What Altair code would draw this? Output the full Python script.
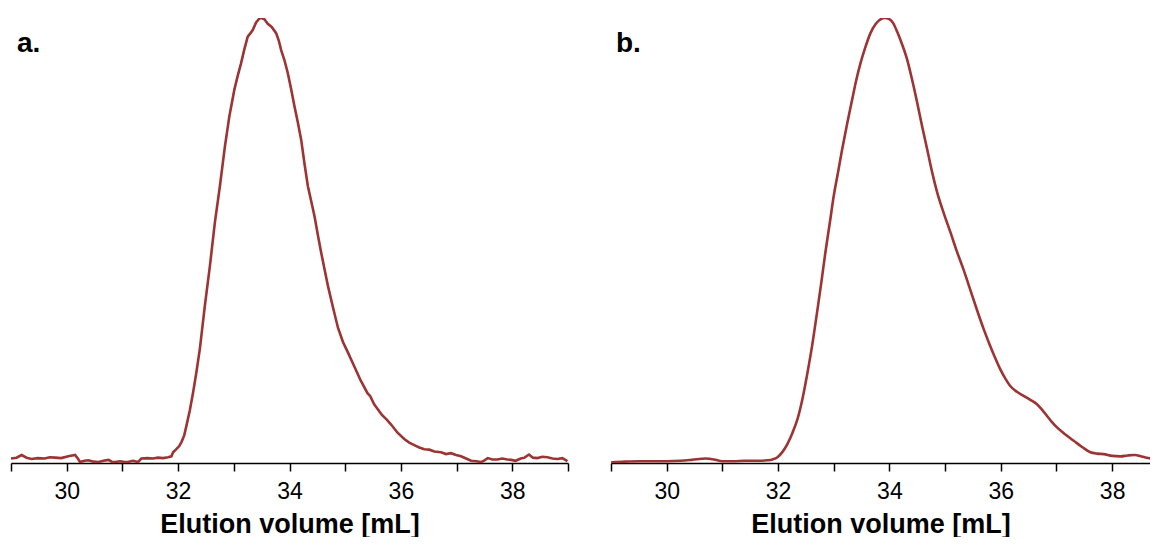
import altair as alt
import pandas as pd

panel_labels = ["a.", "b."]
axis_title = "Elution volume [mL]"
tick_values = list(range(29, 40))

# Panel a (noisy trace)
x_a = [29.00, 29.10, 29.19, 29.28, 29.37, 29.48, 29.60, 29.70, 29.79, 29.90,
       30.03, 30.15, 30.20, 30.24, 30.32, 30.39, 30.48, 30.57, 30.66, 30.75,
       30.81, 30.87, 30.96, 31.04, 31.10, 31.19, 31.28, 31.34, 31.45, 31.55,
       31.64, 31.73, 31.82, 31.88, 31.91, 31.96, 32.02, 32.06, 32.11, 32.15,
       32.21, 32.27, 32.33, 32.39, 32.48, 32.57, 32.66, 32.75, 32.84, 32.92,
       33.01, 33.07, 33.13, 33.19, 33.25, 33.30, 33.34, 33.40, 33.46, 33.50,
       33.55, 33.61, 33.68, 33.76, 33.81, 33.85, 33.91, 33.97, 34.03, 34.09,
       34.15, 34.21, 34.27, 34.33, 34.39, 34.45, 34.51, 34.57, 34.63, 34.69,
       34.78, 34.87, 34.96, 35.05, 35.16, 35.28, 35.40, 35.45, 35.52, 35.66,
       35.75, 35.82, 35.94, 36.06, 36.15, 36.24, 36.33, 36.42, 36.51, 36.60,
       36.72, 36.81, 36.90, 36.99, 37.08, 37.17, 37.26, 37.35, 37.44, 37.50,
       37.56, 37.64, 37.73, 37.82, 37.91, 37.98, 38.06, 38.15, 38.22, 38.30,
       38.37, 38.45, 38.54, 38.63, 38.72, 38.81, 38.90, 38.99]
y_a = [0.010, 0.012, 0.018, 0.012, 0.009, 0.011, 0.010, 0.013, 0.012, 0.011,
       0.015, 0.018, 0.010, 0.002, 0.005, 0.006, 0.003, 0.002, 0.005, 0.007,
       0.003, 0.002, 0.004, 0.002, 0.002, 0.005, 0.002, 0.010, 0.011, 0.010,
       0.012, 0.011, 0.013, 0.015, 0.024, 0.030, 0.038, 0.047, 0.062, 0.084,
       0.118, 0.159, 0.205, 0.256, 0.353, 0.442, 0.540, 0.622, 0.711, 0.779,
       0.839, 0.870, 0.898, 0.930, 0.958, 0.966, 0.973, 0.990, 0.999, 1.000,
       0.997, 0.987, 0.980, 0.966, 0.948, 0.928, 0.905, 0.876, 0.840, 0.801,
       0.765, 0.726, 0.672, 0.622, 0.588, 0.554, 0.512, 0.472, 0.435, 0.398,
       0.350, 0.304, 0.272, 0.248, 0.218, 0.185, 0.157, 0.150, 0.132, 0.108,
       0.097, 0.087, 0.068, 0.054, 0.046, 0.040, 0.035, 0.031, 0.030, 0.026,
       0.024, 0.020, 0.022, 0.018, 0.015, 0.010, 0.005, 0.004, 0.002, 0.006,
       0.011, 0.008, 0.008, 0.010, 0.008, 0.007, 0.005, 0.010, 0.012, 0.019,
       0.012, 0.011, 0.014, 0.013, 0.010, 0.009, 0.011, 0.004]

# Panel b (smooth trace)
x_b = [29.00, 29.25, 29.50, 29.75, 30.00, 30.25, 30.45, 30.70, 30.85, 31.00,
       31.20, 31.40, 31.57, 31.70, 31.81, 31.90, 31.99, 32.08, 32.17, 32.26,
       32.35, 32.44, 32.53, 32.62, 32.70, 32.78, 32.85, 32.93, 33.00, 33.08,
       33.15, 33.24, 33.33, 33.40, 33.48, 33.57, 33.66, 33.75, 33.84, 33.92,
       33.99, 34.07, 34.14, 34.23, 34.32, 34.41, 34.50, 34.59, 34.68, 34.77,
       34.86, 34.98, 35.10, 35.21, 35.33, 35.45, 35.57, 35.69, 35.81, 35.90,
       35.99, 36.08, 36.17, 36.29, 36.41, 36.53, 36.65, 36.74, 36.83, 36.92,
       37.01, 37.16, 37.31, 37.46, 37.61, 37.73, 37.85, 38.00, 38.15, 38.28,
       38.40, 38.55, 38.70, 38.85, 39.00]
y_b = [0.001, 0.003, 0.004, 0.004, 0.004, 0.005, 0.007, 0.010, 0.008, 0.004,
       0.004, 0.005, 0.005, 0.005, 0.006, 0.008, 0.013, 0.025, 0.043, 0.068,
       0.099, 0.145, 0.204, 0.270, 0.338, 0.408, 0.473, 0.540, 0.600, 0.655,
       0.704, 0.762, 0.816, 0.858, 0.898, 0.935, 0.966, 0.986, 0.997, 1.000,
       0.998, 0.988, 0.969, 0.940, 0.906, 0.860, 0.809, 0.755, 0.704, 0.652,
       0.607, 0.560, 0.517, 0.476, 0.435, 0.390, 0.345, 0.302, 0.263, 0.236,
       0.211, 0.190, 0.173, 0.160, 0.151, 0.142, 0.132, 0.120, 0.106, 0.092,
       0.080, 0.064, 0.050, 0.036, 0.024, 0.021, 0.020, 0.016, 0.015, 0.017,
       0.018, 0.014, 0.010, 0.008, 0.006]

LINE = "#9c3434"
FONT = "Liberation Sans"
UNIT = 55.7  # pixels per mL


def panel(xs, ys, label, interp, x_max, label_x):
    df = pd.DataFrame({"vol": xs, "sig": ys})
    x = alt.X(
        "vol:Q",
        scale=alt.Scale(domain=[29, x_max], nice=False, zero=False),
        axis=alt.Axis(
            values=tick_values,
            title=axis_title,
            format="d",
            labelExpr="datum.value % 2 == 0 ? datum.label : ''",
            labelOverlap=False,
            labelFlush=False,
        ),
    )
    y = alt.Y("sig:Q", scale=alt.Scale(domain=[0, 1], nice=False, zero=False), axis=None)
    line = alt.Chart(df).mark_line(
        color=LINE, strokeWidth=2.6, interpolate=interp, clip=True
    ).encode(x=x, y=y)
    text = alt.Chart(pd.DataFrame({"t": [label]})).mark_text(
        font=FONT, fontSize=28, fontWeight="bold", align="left",
        baseline="alphabetic", color="black"
    ).encode(x=alt.value(label_x), y=alt.value(34), text="t:N")
    return alt.layer(line, text).properties(
        width=round((x_max - 29) * UNIT), height=445
    )


chart = alt.hconcat(
    panel(x_a, y_a, panel_labels[0], "linear", 39, 6),
    panel(x_b, y_b, panel_labels[1], "monotone", 38.68, 5),
    spacing=41,
).properties(
    padding={"left": 2, "top": 10, "right": 0, "bottom": 0}
).configure_view(
    stroke=None
).configure_axis(
    grid=False,
    domainColor="black",
    domainWidth=1.5,
    tickColor="black",
    tickWidth=1.5,
    tickSize=8,
    labelFont=FONT,
    labelFontSize=23,
    labelColor="black",
    labelPadding=9,
    titleFont=FONT,
    titleFontSize=27,
    titleFontWeight="bold",
    titleColor="black",
    titlePadding=8,
)

chart.save("out.html", embed_options={"renderer": "svg", "actions": False})
